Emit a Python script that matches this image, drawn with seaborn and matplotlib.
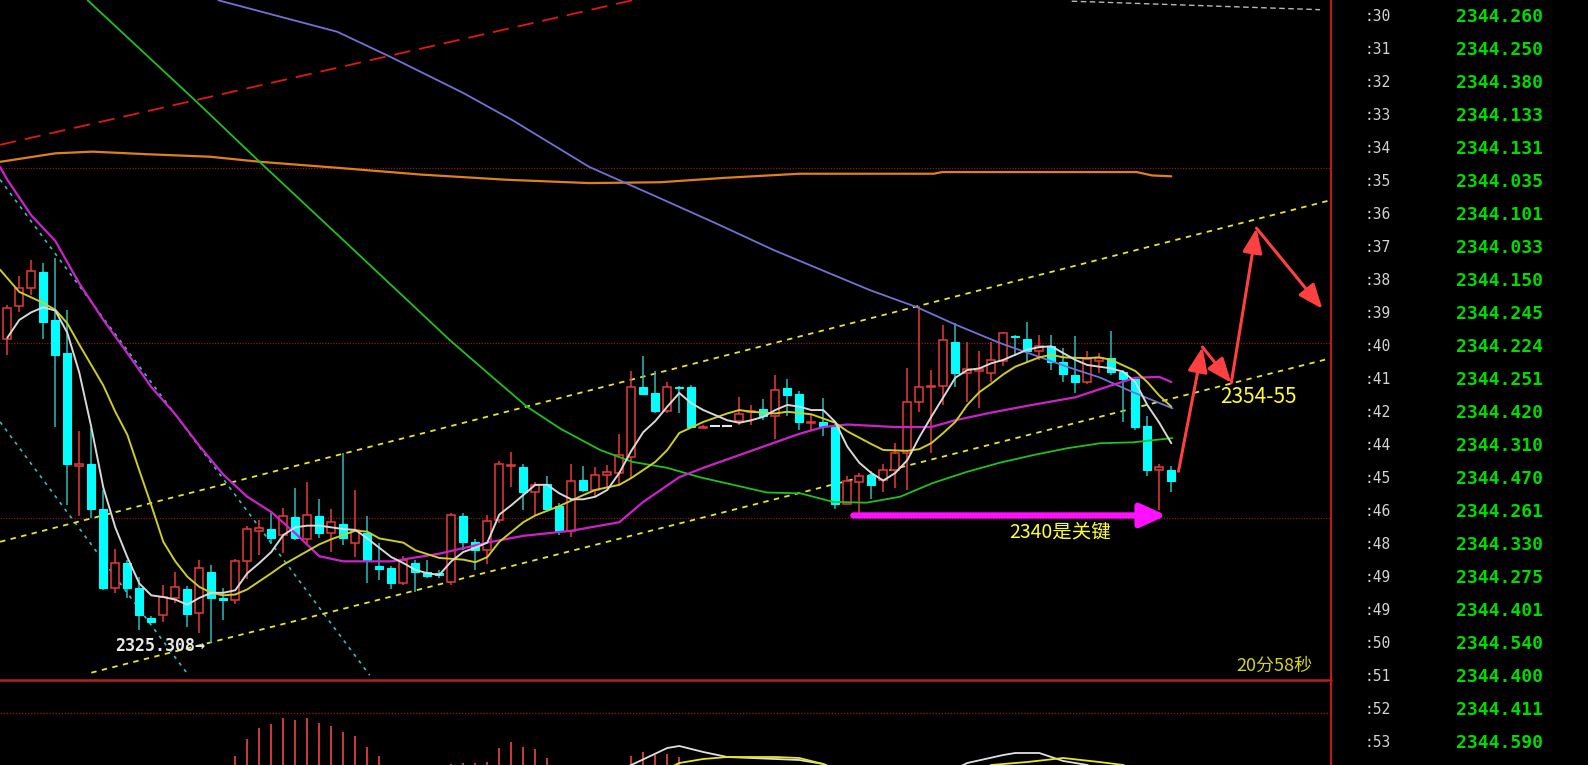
import numpy as np
import pandas as pd
import matplotlib
matplotlib.use("Agg")
import matplotlib.pyplot as plt
from matplotlib.lines import Line2D
import seaborn as sns

# ---------------- data ----------------
open_ = [2361.1, 2364.9, 2367.0, 2368.9, 2363.3, 2359.4, 2346.1, 2346.3, 2341.1, 2331.8,
         2334.7, 2331.8, 2328.2, 2328.6, 2330.6, 2331.7, 2328.8, 2333.7, 2330.6, 2330.3,
         2334.9, 2338.5, 2338.7, 2338.0, 2340.1, 2337.5, 2340.2, 2338.2, 2339.3, 2337.0,
         2338.2, 2334.4, 2334.1, 2332.4, 2334.7, 2333.6, 2333.5, 2332.5, 2340.2, 2337.2,
         2336.2, 2339.8, 2346.1, 2346.0, 2343.0, 2344.0, 2341.4, 2338.5, 2344.5, 2343.3,
         2345.0, 2345.3, 2347.2, 2355.4, 2354.7, 2352.6, 2355.4, 2355.4, 2350.6, 2350.8,
         2350.8, 2351.4, 2352.5, 2352.8, 2352.0, 2355.3, 2354.6, 2351.2, 2351.3, 2350.8,
         2341.7, 2344.2, 2345.1, 2344.5, 2345.6, 2347.7, 2353.6, 2355.4, 2355.5, 2360.7,
         2357.1, 2357.3, 2357.1, 2358.5, 2361.4, 2361.0, 2359.6, 2360.2, 2358.4, 2356.8,
         2356.0, 2358.5, 2358.8, 2357.2, 2356.3, 2350.8, 2345.6, 2345.7]
high = [2365.1, 2368.5, 2370.3, 2370.0, 2370.6, 2364.5, 2350.2, 2350.6, 2343.3, 2336.4,
        2335.1, 2333.0, 2328.5, 2332.1, 2333.7, 2332.0, 2335.1, 2334.5, 2331.8, 2335.2,
        2339.1, 2339.8, 2340.6, 2341.2, 2343.5, 2344.2, 2342.2, 2341.0, 2347.7, 2343.3,
        2340.2, 2337.0, 2334.4, 2335.5, 2335.1, 2335.1, 2333.9, 2340.6, 2340.6, 2337.5,
        2340.4, 2346.7, 2347.8, 2346.4, 2344.2, 2344.9, 2341.8, 2346.4, 2346.1, 2346.0,
        2346.2, 2349.9, 2357.3, 2359.0, 2357.3, 2356.0, 2355.5, 2355.6, 2350.9, 2350.8,
        2350.8, 2354.2, 2353.3, 2354.0, 2356.8, 2356.3, 2354.9, 2352.1, 2354.1, 2351.1,
        2344.9, 2345.3, 2345.5, 2346.4, 2348.8, 2357.6, 2364.9, 2357.4, 2362.7, 2362.9,
        2360.7, 2359.6, 2360.7, 2361.9, 2361.5, 2363.0, 2361.5, 2361.5, 2360.0, 2361.4,
        2359.6, 2359.4, 2362.0, 2357.4, 2356.6, 2352.0, 2346.4, 2346.1]
low = [2359.2, 2364.2, 2366.2, 2361.1, 2350.7, 2341.5, 2340.2, 2340.0, 2331.5, 2331.2,
       2330.6, 2326.8, 2327.6, 2327.8, 2330.0, 2327.2, 2326.5, 2325.3, 2328.0, 2329.9,
       2332.8, 2335.6, 2336.9, 2335.9, 2337.4, 2336.8, 2337.6, 2336.0, 2336.8, 2335.4,
       2332.3, 2332.7, 2331.7, 2332.1, 2331.3, 2332.9, 2332.9, 2332.1, 2336.2, 2333.9,
       2334.6, 2339.4, 2343.7, 2340.9, 2340.4, 2340.9, 2338.0, 2337.8, 2343.0, 2342.5,
       2343.7, 2343.8, 2344.7, 2354.5, 2352.4, 2352.4, 2352.3, 2350.6, 2350.6, 2350.8,
       2350.8, 2350.9, 2350.9, 2351.5, 2349.3, 2352.0, 2350.3, 2350.4, 2349.6, 2341.1,
       2341.6, 2340.2, 2342.2, 2343.1, 2343.5, 2343.3, 2352.5, 2347.7, 2353.3, 2355.4,
       2353.7, 2352.9, 2356.0, 2357.9, 2359.0, 2358.2, 2358.6, 2357.4, 2356.0, 2354.7,
       2355.8, 2357.1, 2356.8, 2351.3, 2350.4, 2344.9, 2340.9, 2343.1]
close = [2364.7, 2367.0, 2369.0, 2363.1, 2359.2, 2346.3, 2346.3, 2341.0, 2331.8, 2334.7,
         2331.8, 2328.6, 2327.8, 2330.7, 2331.9, 2328.7, 2334.1, 2330.6, 2330.3, 2334.9,
         2338.7, 2338.8, 2337.6, 2340.2, 2337.6, 2340.4, 2338.2, 2339.5, 2337.6, 2338.6,
         2334.9, 2334.0, 2332.3, 2335.1, 2333.7, 2333.2, 2333.3, 2340.4, 2337.2, 2336.2,
         2339.7, 2346.4, 2346.2, 2343.0, 2343.9, 2341.1, 2338.5, 2344.3, 2343.3, 2345.1,
         2345.4, 2347.4, 2355.4, 2354.6, 2352.6, 2355.4, 2355.3, 2350.7, 2350.7, 2350.8,
         2350.8, 2352.2, 2352.6, 2352.0, 2355.1, 2354.5, 2351.3, 2351.3, 2350.8, 2341.7,
         2344.4, 2344.9, 2343.9, 2345.6, 2347.7, 2353.6, 2355.4, 2355.5, 2360.9, 2357.1,
         2357.5, 2357.5, 2358.6, 2361.8, 2361.3, 2359.7, 2360.2, 2358.3, 2356.9, 2356.0,
         2358.7, 2358.8, 2357.2, 2356.3, 2350.7, 2345.6, 2346.0, 2344.4]

ma_white = [2361.2, 2363.3, 2364.2, 2364.8, 2364.4, 2361.8, 2357.1, 2350.7, 2343.6, 2338.9,
            2335.4, 2332.3, 2330.9, 2330.7, 2330.4, 2329.8, 2330.6, 2331.2, 2331.2, 2331.5,
            2333.5, 2334.7, 2336.0, 2338.0, 2338.9, 2339.1, 2339.1, 2338.9, 2338.7, 2338.6,
            2337.6, 2336.5, 2335.4, 2334.7, 2333.9, 2333.5, 2333.3, 2334.9, 2336.0, 2336.5,
            2337.1, 2340.4, 2341.5, 2342.7, 2343.9, 2343.9, 2342.9, 2342.2, 2342.2, 2342.5,
            2343.3, 2345.3, 2347.9, 2350.1, 2351.4, 2353.1, 2354.7, 2353.5, 2352.7, 2352.1,
            2351.5, 2351.2, 2351.5, 2351.9, 2352.7, 2353.3, 2353.1, 2352.7, 2352.7, 2351.3,
            2348.4, 2346.5, 2345.3, 2344.4, 2345.3, 2346.8, 2349.5, 2351.9, 2354.2, 2356.5,
            2357.4, 2357.6, 2358.2, 2358.6, 2359.2, 2359.8, 2360.1, 2360.2, 2359.4, 2358.6,
            2358.0, 2357.8, 2357.6, 2357.2, 2356.0, 2353.3, 2351.2, 2348.8]

ma_yellow_idx = [-0.6, 1, 3, 4, 5, 6, 7, 8, 9, 10, 11, 12, 13, 14, 15, 16, 17, 18, 19, 20,
                 22, 23, 24, 25, 26, 27, 28, 29, 30, 31, 33, 34, 36, 38, 39, 40, 41, 43, 44,
                 46, 48, 49, 50, 51, 52, 54, 55, 56, 58, 60, 61, 62, 64, 65, 67, 69, 70, 72,
                 73, 75, 76, 77, 78, 79, 80, 81, 82, 83, 84, 86, 87, 88, 90, 91, 92, 94, 95,
                 96, 97]
ma_yellow = [2369.2, 2366.6, 2365.3, 2364.5, 2362.9, 2360.4, 2358.0, 2355.6, 2352.5, 2349.8,
             2345.6, 2341.5, 2337.2, 2334.9, 2333.1, 2331.9, 2331.2, 2330.9, 2331.0, 2331.6,
             2333.5, 2334.5, 2335.3, 2336.1, 2336.9, 2337.5, 2338.0, 2338.5, 2338.4, 2337.6,
             2337.1, 2336.2, 2335.3, 2335.1, 2334.8, 2335.4, 2337.2, 2339.5, 2340.3, 2341.4,
             2342.7, 2343.3, 2343.6, 2343.9, 2344.7, 2346.6, 2348.0, 2350.0, 2351.3, 2352.3,
             2352.7, 2352.5, 2352.3, 2352.5, 2352.2, 2351.2, 2350.2, 2348.7, 2348.0, 2347.9,
             2348.1, 2348.8, 2350.0, 2351.3, 2353.3, 2354.8, 2355.8, 2356.9, 2357.8, 2358.9,
             2359.2, 2358.9, 2358.8, 2358.9, 2358.6, 2357.3, 2356.0, 2354.4, 2353.1]

ma_magenta_idx = [-0.6, 0, 2, 4, 6, 8, 10, 12, 14, 16, 18, 20, 22, 24, 26, 28, 32, 36, 40,
                  43, 47, 51, 53, 56, 58, 61, 64, 66, 68, 70, 74, 77, 79, 82, 85, 89, 92,
                  94, 96, 97]
ma_magenta = [2381.3, 2379.8, 2375.6, 2372.6, 2367.6, 2363.3, 2359.4, 2355.4, 2352.2, 2348.5,
              2345.1, 2342.5, 2340.7, 2338.2, 2335.5, 2334.9, 2334.9, 2335.8, 2337.1, 2337.9,
              2338.5, 2339.5, 2341.9, 2344.8, 2345.9, 2347.4, 2348.9, 2349.9, 2350.7, 2351.0,
              2350.7, 2350.7, 2351.5, 2352.4, 2353.2, 2354.2, 2355.6, 2356.5, 2356.6, 2356.0]

ma_green_idx = [6.7, 15.6, 21.1, 28.9, 36.9, 40.0, 43.3, 46.1, 49.4, 52.1, 55.0, 57.7, 60.5,
                63.3, 66.1, 68.8, 71.6, 74.4, 77.1, 79.9, 82.7, 85.5, 88.3, 91.1, 93.8, 97.1]
ma_green = [2400.9, 2389.2, 2381.8, 2371.5, 2360.9, 2357.1, 2353.1, 2350.5, 2348.0, 2346.6,
            2345.9, 2344.8, 2343.9, 2343.0, 2342.9, 2341.9, 2341.8, 2342.5, 2344.1, 2345.4,
            2346.5, 2347.4, 2348.2, 2348.8, 2348.9, 2349.4]

ma_blue_idx = [17.6, 27.5, 32.0, 38.0, 42.1, 48.5, 54.1, 59.0, 63.9, 71.9, 75.8, 79.1, 82.7,
               85.5, 88.3, 91.1, 93.8, 97.1]
ma_blue = [2400.9, 2397.2, 2394.2, 2390.0, 2386.8, 2381.3, 2377.8, 2374.7, 2371.5, 2366.8,
           2364.8, 2362.7, 2360.6, 2359.2, 2357.8, 2356.5, 2354.8, 2352.9]

ma_orange_idx = [-0.6, 4.0, 7.1, 11.6, 16.9, 21.1, 27.5, 34.5, 41.5, 48.5, 54.4, 59.6, 66.0,
                 77.2, 77.9, 94.1, 95.4, 97.0]
ma_orange = [2381.9, 2382.9, 2383.1, 2382.8, 2382.5, 2381.9, 2381.2, 2380.4, 2379.8, 2379.4,
             2379.5, 2380.0, 2380.5, 2380.5, 2380.7, 2380.7, 2380.3, 2380.2]

# drawn trend lines (bar index, price) anchors
red_dash_idx, red_dash_val = [-0.6, 53.0], [2383.9, 2401.2]
cyan1_idx, cyan1_val = [-0.6, 30.2], [2379.8, 2321.5]
cyan2_idx, cyan2_val = [-0.6, 15.1], [2351.3, 2321.5]
chan_up_idx, chan_up_val = [-0.6, 110.3], [2337.2, 2377.4]
chan_lo_idx, chan_lo_val = [7.0, 110.3], [2321.8, 2358.8]
grey_dash_idx, grey_dash_val = [88.7, 109.4], [2400.8, 2399.8]
grid_levels = [2381.2, 2360.6, 2340.0]

# projection arrows and key level
proj_idx = [97.6, 99.6, 102.0, 104.1, 109.6]
proj_val = [2345.5, 2360.1, 2355.9, 2374.1, 2364.6]
key_idx = [70.5, 96.6]
key_level = 2340.3
low_label = "2325.308"

# MACD panel
hist_idx = [19, 20, 21, 22, 23, 24, 25, 26, 27, 28, 29, 30, 31,
            37, 38, 39, 40, 41, 42, 43, 44, 45,
            52, 53, 54, 55, 56]
hist_val = [0.18, 0.52, 0.74, 0.82, 0.94, 0.90, 0.94, 0.84, 0.78, 0.66, 0.58, 0.36, 0.18,
            0.02, 0.04, 0.04, 0.06, 0.34, 0.46, 0.36, 0.32, 0.14,
            0.18, 0.26, 0.20, 0.22, 0.16]
dif_idx = [50, 52, 55, 56, 58, 60, 64, 66, 68, 70, 78, 80, 83, 84, 86, 88, 90, 92]
dif_val = [-0.2, 0.0, 0.34, 0.38, 0.26, 0.16, 0.12, 0.10, 0.02, -0.2, -0.2, 0.04, 0.20, 0.24,
           0.24, 0.08, 0.0, -0.2]
dea_idx = [54, 56, 58, 60, 64, 66, 68, 70, 80, 82, 85, 88, 91, 93, 95]
dea_val = [-0.2, 0.04, 0.12, 0.16, 0.16, 0.14, 0.02, -0.2, -0.2, 0.0, 0.06, 0.14, 0.06, 0.0, -0.2]

# tick table on the right
tick_times = [":30", ":31", ":32", ":33", ":34", ":35", ":36", ":37", ":38", ":39", ":40",
              ":41", ":42", ":44", ":45", ":46", ":48", ":49", ":49", ":50", ":51", ":52", ":53"]
tick_prices = [2344.260, 2344.250, 2344.380, 2344.133, 2344.131, 2344.035, 2344.101, 2344.033,
               2344.150, 2344.245, 2344.224, 2344.251, 2344.420, 2344.310, 2344.470, 2344.261,
               2344.330, 2344.275, 2344.401, 2344.540, 2344.400, 2344.411, 2344.590]

# ---------------- style ----------------
sns.set_theme(style="dark")
plt.rcParams['font.family'] = ['DejaVu Sans', 'Noto Sans CJK SC']

RED = '#e83a3a'
CYAN = '#00ffff'
CYAN_W = '#2fb8b8'
GRID_RED = '#8c1818'

W, H = 1588, 765
MX = 1331          # right edge of the chart area (px)
TOP_H = 680        # height of price pane (px)
fig = plt.figure(figsize=(W / 100, H / 100), dpi=100, facecolor='black')

XL = (-0.608, 110.31)

# ---------------- price pane ----------------
ax = fig.add_axes([0, (H - TOP_H) / H, MX / W, TOP_H / H])
ax.set_facecolor('black')

for lv in grid_levels:
    ax.axhline(lv, color=GRID_RED, lw=0.9, dashes=(1, 1.2), zorder=1)

df = pd.DataFrame(dict(o=open_, h=high, l=low, c=close))
df['i'] = np.arange(len(df))
up = df[df.c > df.o]
dn = df[df.c < df.o]
fl = df[df.c == df.o]

ax.vlines(up.i, up.l, up.h, color=RED, lw=1.1, zorder=3)
ax.bar(up.i, up.c - up.o, bottom=up.o, width=0.68, facecolor='black', edgecolor=RED,
       linewidth=1.1, zorder=4)
ax.vlines(dn.i, dn.l, dn.h, color=CYAN_W, lw=1.1, zorder=3)
ax.bar(dn.i, dn.c - dn.o, bottom=dn.o, width=0.68, facecolor=CYAN, edgecolor=CYAN,
       linewidth=0.8, zorder=4)
ax.hlines(fl.o, fl.i - 0.4, fl.i + 0.4, color='#e8e8e8', lw=1.5, zorder=4)

# drawn lines
ax.plot(red_dash_idx, red_dash_val, color='#e01818', lw=1.3, dashes=(9, 5), zorder=2)
ax.plot(cyan1_idx, cyan1_val, color='#30c0c0', lw=1.2, dashes=(2, 3), zorder=2)
ax.plot(cyan2_idx, cyan2_val, color='#30c0c0', lw=1.2, dashes=(2, 3), zorder=2)
ax.plot(chan_up_idx, chan_up_val, color='#e6e62a', lw=1.3, dashes=(3, 3), zorder=2)
ax.plot(chan_lo_idx, chan_lo_val, color='#e6e62a', lw=1.3, dashes=(3, 3), zorder=2)
ax.plot(grey_dash_idx, grey_dash_val, color='#b8b8b8', lw=1.0, dashes=(4, 2.5), zorder=2)

# moving averages
ma_specs = [
    (ma_orange_idx, ma_orange, '#e0801c', 1.6),
    (ma_blue_idx, ma_blue, '#7272d6', 1.3),
    (ma_green_idx, ma_green, '#1fc01f', 1.3),
    (ma_magenta_idx, ma_magenta, '#cc22cc', 1.6),
    (ma_yellow_idx, ma_yellow, '#cdcd22', 1.4),
    (list(range(len(ma_white))), ma_white, '#d8d8d8', 1.4),
]
for xs, ys, col, lw in ma_specs:
    sns.lineplot(x=xs, y=ys, ax=ax, color=col, linewidth=lw, estimator=None, sort=False,
                 legend=False, zorder=5)

# annotations
ax.annotate('', xy=(key_idx[1], key_level), xytext=(key_idx[0], key_level),
            arrowprops=dict(arrowstyle='-|>,head_length=1.1,head_width=0.5', color='#ff10ff',
                            lw=4.5, shrinkA=0, shrinkB=0, mutation_scale=14), zorder=6)
for k in range(len(proj_idx) - 1):
    ax.annotate('', xy=(proj_idx[k + 1], proj_val[k + 1]), xytext=(proj_idx[k], proj_val[k]),
                arrowprops=dict(arrowstyle='-|>,head_length=1.0,head_width=0.4', color='#ff4040',
                                lw=2.2, shrinkA=0, shrinkB=0, mutation_scale=15), zorder=6)

ax.text(8.98, 2324.9, low_label + '→', color='#e8e8e8', fontsize=12, family='DejaVu Sans Mono',
        fontweight='bold', ha='left', va='center', zorder=7)
ax.text(87.7, 2338.3, '2340是关键', color='#ffff30', fontsize=14, family=['Noto Sans CJK SC'],
        ha='center', va='center', zorder=7)
ax.text(104.3, 2354.2, '2354-55', color='#ffff30', fontsize=15, family=['Noto Sans CJK SC'],
        ha='center', va='center', zorder=7)
ax.text(105.6, 2322.6, '20分58秒', color='#d4d41c', fontsize=13, family=['Noto Sans CJK SC'],
        ha='center', va='center', zorder=7)

ax.set_xlim(*XL)
ax.set_ylim(2320.94, 2400.94)
ax.axis('off')

# ---------------- MACD pane ----------------
axm = fig.add_axes([0, 0, MX / W, (H - TOP_H) / H])
axm.set_facecolor('black')
axm.axhline(1.04, color=GRID_RED, lw=1.0, dashes=(1, 1.2), zorder=1)
axm.vlines(hist_idx, 0, hist_val, color='#e04040', lw=1.3, zorder=2)
sns.lineplot(x=dif_idx, y=dif_val, ax=axm, color='#e0e0e0', linewidth=1.3, estimator=None,
             sort=False, legend=False, zorder=3)
sns.lineplot(x=dea_idx, y=dea_val, ax=axm, color='#e6e622', linewidth=1.3, estimator=None,
             sort=False, legend=False, zorder=3)
axm.set_xlim(*XL)
axm.set_ylim(0, 1.7)
axm.axis('off')

# separators
fig.add_artist(Line2D([0, MX / W], [(H - TOP_H) / H] * 2, transform=fig.transFigure,
                      color='#b82020', lw=1.8))
fig.add_artist(Line2D([MX / W] * 2, [0, 1], transform=fig.transFigure, color='#c01818', lw=1.5))

# ---------------- tick table ----------------
axr = fig.add_axes([MX / W, 0, (W - MX) / W, 1])
axr.set_facecolor('black')
axr.set_xlim(0, W - MX)
axr.set_ylim(H, 0)
axr.axis('off')
for k, (t, p) in enumerate(zip(tick_times, tick_prices)):
    yy = 16.7 + 33.0 * k
    axr.text(34, yy, t, color='#d4d4d4', fontsize=10.5, family='DejaVu Sans Mono',
             ha='left', va='center')
    axr.text(125, yy, f"{p:.3f}", color='#00dc00', fontsize=13, family='DejaVu Sans Mono',
             fontweight='bold', ha='left', va='center')

fig.savefig('out.png', dpi=100, facecolor='black')
